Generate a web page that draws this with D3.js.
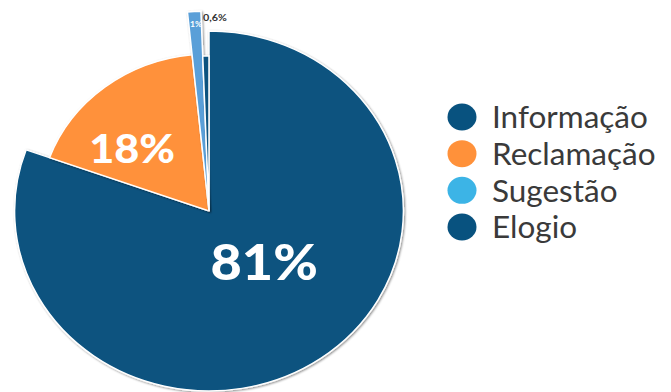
<!DOCTYPE html>
<html><head><meta charset="utf-8">
<script src="https://cdn.jsdelivr.net/npm/d3@7"></script>
<style>html,body{margin:0;padding:0;background:#fff;}svg{display:block;font-family:Lato,"Open Sans",sans-serif;}</style>
</head><body>
<svg id="chart" width="671" height="392"></svg>
<script>
const categories = ["Informação", "Reclamação", "Sugestão", "Elogio"];
const values = [81, 18, 1, 0.6];
const labels = ["81%", "18%", "1%", "0,6%"];

const sliceColors = ["#08527f", "#ff913a", "#5a9fd8", "#08527f"];
const legendColors = ["#08527f", "#ff913a", "#3cb4e6", "#08527f"];
const outerRadii = [180, 157, 200, 155];
const sx = 1.08;
const cx = 209, cy = 211;

const svg = d3.select("#chart");
const defs = svg.append("defs");
const f = defs.append("filter").attr("id","sh").attr("x","-10%").attr("y","-10%").attr("width","120%").attr("height","120%");
f.append("feDropShadow").attr("dx",1).attr("dy",1).attr("stdDeviation",1).attr("flood-color","#000").attr("flood-opacity",0.45);

const pie = d3.pie().sort(null).value(d => d)(values);
const g = svg.append("g").attr("transform", `translate(${cx},${cy}) scale(${sx},1)`);

const arcFor = i => d3.arc().innerRadius(0).outerRadius(outerRadii[i]);
g.selectAll("path.slice").data(pie).join("path")
  .attr("class","slice")
  .attr("d", (d,i) => arcFor(i)(d))
  .attr("fill", (d,i) => sliceColors[i])
  .attr("stroke", "#fff")
  .attr("stroke-width", 1.5)
  .attr("stroke-linejoin","miter")
  .attr("vector-effect","non-scaling-stroke")
  .attr("filter","url(#sh)");

// labels placed in polar coordinates relative to the pie centre
const labelPos = [
  {ang: 134, r: 71, size: 50, fill: "#fff", weight: 900, anchor: "middle"},
  {ang: 311.5, r: 95, size: 40, fill: "#fff", weight: 900, anchor: "middle"},
  {ang: 356.3, r: 187.5, size: 8, fill: "#fff", weight: 700, anchor: "middle"},
  {ang: 358.35, r: 194, size: 10, fill: "#333", weight: 700, anchor: "start"}
];
labelPos.forEach((p, i) => {
  const a = p.ang * Math.PI / 180;
  const x = cx + sx * p.r * Math.sin(a);
  const y = cy - p.r * Math.cos(a);
  svg.append("text")
    .attr("transform", `translate(${x},${y}) scale(${sx},1)`)
    .attr("text-anchor", p.anchor)
    .attr("dominant-baseline", "central")
    .attr("font-size", p.size)
    .attr("font-weight", p.weight)
    .attr("fill", p.fill)
    .text(labels[i]);
});

// legend
const legendY = d3.scalePoint().domain(categories).range([117, 227]);
const leg = svg.append("g").selectAll("g").data(categories).join("g")
  .attr("transform", d => `translate(462,${legendY(d)})`);
leg.append("ellipse").attr("rx", 14.5).attr("ry", 13.5)
  .attr("fill", (d,i) => legendColors[i]);
leg.append("text")
  .attr("transform", `translate(30,0) scale(1.05,1)`)
  .attr("dominant-baseline", "central")
  .attr("font-size", 30)
  .attr("fill", "#3a3a3a")
  .text(d => d);
</script>
</body></html>
